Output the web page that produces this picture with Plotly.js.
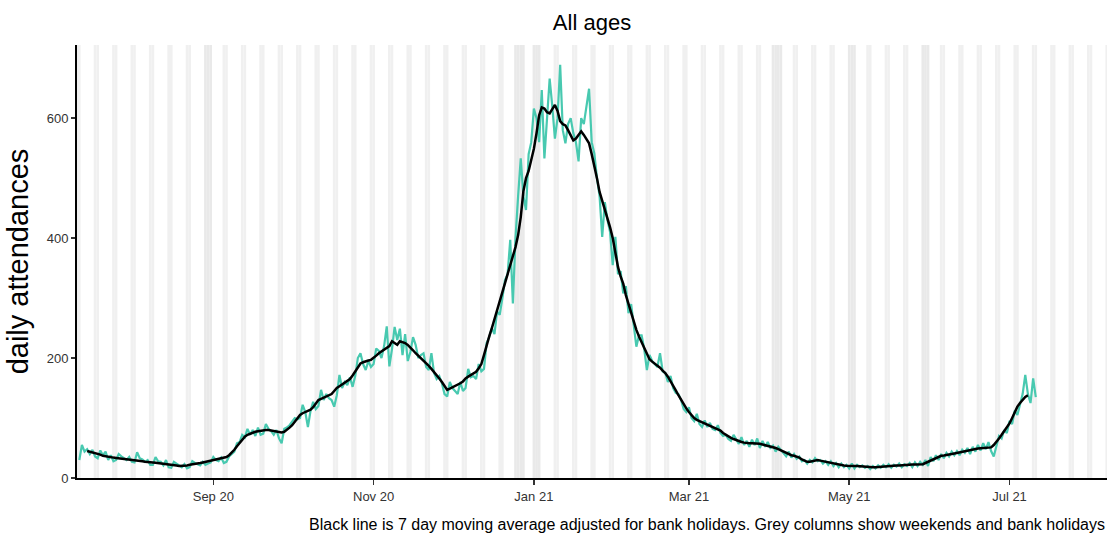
<!DOCTYPE html>
<html>
<head>
<meta charset="utf-8">
<script src="https://cdn.plot.ly/plotly-3.0.1.min.js"></script>
<style>
  html, body { margin: 0; padding: 0; background: #ffffff; }
  #chart { width: 1107px; height: 534px; }
</style>
</head>
<body>
<div id="chart"></div>
<script>
// ---- Data ----
// First day of the daily series (both series are daily, consecutive)
const seriesStart = '2020-07-12';
// Daily attendances (teal), one value per day from seriesStart
const dailyAttendances = [
  30,55,44,48,40,47,36,
  33,46,38,44,30,38,28,
  30,40,36,33,30,35,27,
  26,43,33,31,27,30,22,
  22,35,28,27,21,30,18,
  17,27,24,21,18,23,16,
  18,28,25,23,21,27,22,
  24,26,35,30,28,34,25,
  27,36,40,44,58,60,72,
  68,82,72,80,70,84,72,
  74,90,82,78,72,80,66,
  58,82,84,88,94,100,98,
  100,122,110,85,112,127,115,
  120,147,130,140,133,130,119,
  138,172,150,160,155,168,152,
  170,200,208,190,180,195,185,
  190,216,212,200,220,253,186,
  215,252,230,249,205,240,195,
  210,235,222,200,205,208,185,
  180,208,175,165,170,158,140,
  136,160,150,145,140,160,145,
  150,182,168,170,165,190,178,
  182,225,235,250,240,278,272,
  300,330,340,397,291,400,470,
  533,470,447,540,560,616,600,
  560,647,533,600,666,620,566,
  600,689,580,558,590,600,575,
  560,528,600,590,620,649,560,
  541,500,470,402,460,430,410,
  355,402,340,345,308,320,275,
  290,255,219,238,238,215,180,
  205,195,190,185,208,178,175,
  160,170,150,142,140,130,115,
  110,118,100,95,107,90,85,
  96,85,92,82,80,88,75,
  70,72,65,62,72,65,57,
  68,55,62,52,64,55,66,
  50,62,52,60,50,54,44,
  52,46,40,36,44,34,40,
  32,36,28,30,24,30,26,
  33,28,30,24,28,22,28,
  20,25,18,24,18,22,16,
  24,16,22,18,21,17,20,
  15,20,16,21,17,22,18,
  23,17,22,19,24,18,23,
  20,25,18,26,20,27,22,
  30,20,35,28,38,30,40,
  33,42,36,44,38,45,38,
  47,42,50,40,52,44,55,
  46,58,48,60,45,36,55,
  70,66,80,75,95,90,112,
  105,125,140,172,140,125,166,
  135
];
// 7 day moving average (black) starts this many days after seriesStart
const movingAverageOffset = 3;
const movingAverage = [
  45,44,42,41,40,39,37,
  36,35,34.5,34,33.5,33,32.5,
  32,31.5,31,31,30.5,30,29,
  28,27,27,26.5,26,25.5,25,
  24.5,24.5,24,23,22,21.5,21,
  20,20,20.5,21,22,22.5,23,
  24,25,26,27,28,28.5,29,
  30,31,32,33,35,38,42,
  47,53,59,65,69,72,74,
  76,77,78,79,80,80,80,
  79,78,77,76,76,77,80,
  84,88,94,100,105,108,110,
  112,114,118,124,130,132,134,
  135,137,140,145,150,153,156,
  159,162,165,171,177,184,191,
  193,195,196,197,200,204,208,
  211,214,216,220,228,225,222,
  228,227,225,222,218,213,208,
  204,200,196,191,187,182,177,
  172,166,160,153,147,149,151,
  153,155,158,161,166,169,172,
  174,177,183,190,205,222,236,
  250,265,281,297,311,325,340,
  355,372,385,405,435,478,500,
  512,530,549,575,605,618,616,
  610,608,615,622,612,595,590,
  588,580,570,563,566,572,578,
  572,565,558,540,522,500,477,
  462,448,436,418,400,376,352,
  336,324,305,290,278,262,247,
  236,226,218,207,198,194,191,
  188,184,179,175,169,162,154,
  146,138,130,122,116,110,105,
  100,97,95,93,91,90,88,
  86,84,82,79,75,72,70,
  67,65,63,62,60,59,58,
  58,58,58,58,57,56,55,
  54,53,51,50,48,46,43,
  41,40,38,37,36,34,31,
  29,27,27,28,29,30,29,
  28,27,26,25,24,23,22,
  22,21,20.5,20,20,20,20,
  19.5,19,19,18.5,18,18,18,
  18.5,19,19,19.5,20,20,20.5,
  21,21,21.5,22,22,22,22.5,
  22.5,23,23,23,25,27,30,
  32,34,36,37,37.5,38,39,
  40,41,42,43,44,45,46,
  47,47.5,48,49,49.5,50,50.5,
  51,51,55,60,66,72,78,
  85,91,100,110,119,125,130,
  135,138
];
// Bank holidays (England) in the displayed period
const bankHolidays = ['2020-08-31','2020-12-25','2020-12-28','2021-01-01',
                      '2021-04-02','2021-04-05','2021-05-03','2021-05-31'];
// Axis range and ticks
const xRange = ['2020-07-11 03:00', '2021-08-07 02:30'];
const xTickVals = ['2020-09-01','2020-11-01','2021-01-01','2021-03-01','2021-05-01','2021-07-01'];
const xTickText = ['Sep 20','Nov 20','Jan 21','Mar 21','May 21','Jul 21'];
const yTickVals = [0, 200, 400, 600];
const yRange = [0, 722];

// ---- Helpers ----
const DAY = 86400000;
function toMs(s) { const p = s.slice(0,10).split('-').map(Number); return Date.UTC(p[0], p[1]-1, p[2]); }
function fmt(ms) { return new Date(ms).toISOString().slice(0,19).replace('T',' '); }
const startMs = toMs(seriesStart);
const xDaily = dailyAttendances.map((_, i) => fmt(startMs + i*DAY).slice(0,10));
const xMA = movingAverage.map((_, i) => fmt(startMs + (i+movingAverageOffset)*DAY).slice(0,10));

// Grey columns: weekends and bank holidays over the whole axis range
const bhSet = new Set(bankHolidays);
const shapes = [];
const firstMs = toMs(xRange[0]) - DAY, lastMs = toMs(xRange[1]) + DAY;
const off = [];
for (let t = firstMs; t <= lastMs; t += DAY) {
  const dow = new Date(t).getUTCDay();
  const key = fmt(t).slice(0,10);
  off.push({t, isOff: dow === 0 || dow === 6 || bhSet.has(key), isBH: bhSet.has(key)});
}
// runs of non-working days; runs containing a bank holiday get a slightly darker shade
let i = 0;
while (i < off.length) {
  if (!off[i].isOff) { i++; continue; }
  let j = i, hasBH = false;
  while (j < off.length && off[j].isOff) { if (off[j].isBH) hasBH = true; j++; }
  for (let k = i; k < j; k++) {
    shapes.push({
      type: 'rect', xref: 'x', yref: 'paper', layer: 'below',
      x0: fmt(off[k].t - DAY/2), x1: fmt(off[k].t + DAY/2), y0: 0, y1: 1,
      fillcolor: hasBH ? '#e9e9e9' : '#f0f0f0', line: {width: 0}
    });
  }
  i = j;
}

const traces = [
  { x: xDaily, y: dailyAttendances, type: 'scatter', mode: 'lines',
    line: {color: '#48c9b0', width: 2.2}, hoverinfo: 'skip', showlegend: false },
  { x: xMA, y: movingAverage, type: 'scatter', mode: 'lines',
    line: {color: '#000000', width: 2.5}, hoverinfo: 'skip', showlegend: false }
];

const layout = {
  width: 1107, height: 534,
  margin: {l: 77, r: 0, t: 45, b: 56},
  paper_bgcolor: '#ffffff', plot_bgcolor: '#ffffff',
  font: {family: 'Liberation Sans, Arial, sans-serif', color: '#000'},
  title: {text: 'All ages', font: {size: 22, color: '#000'},
          x: 0.5, xref: 'paper', xanchor: 'center', y: 1 - 22/534, yref: 'container', yanchor: 'middle'},
  xaxis: {
    type: 'date', range: xRange, showgrid: false, zeroline: false,
    showline: true, linecolor: '#000', linewidth: 2,
    tickmode: 'array', tickvals: xTickVals, ticktext: xTickText,
    ticks: 'outside', ticklen: 5, tickwidth: 1.5, tickcolor: '#333',
    tickfont: {size: 13, color: '#333'}
  },
  yaxis: {
    range: yRange, showgrid: false, zeroline: false,
    showline: true, linecolor: '#000', linewidth: 2,
    tickmode: 'array', tickvals: yTickVals,
    ticks: 'outside', ticklen: 4, tickwidth: 1.5, tickcolor: '#333',
    tickfont: {size: 13, color: '#333'},
    title: {text: 'daily attendances', font: {size: 29, color: '#000'}, standoff: 10},
    automargin: false
  },
  shapes: shapes,
  annotations: [{
    text: 'Black line is 7 day moving average adjusted for bank holidays. Grey columns show weekends and bank holidays',
    xref: 'paper', x: 1, xanchor: 'right', yref: 'paper', y: (478-524)/433, yanchor: 'middle',
    showarrow: false, font: {size: 16, color: '#000'}
  }]
};

Plotly.newPlot('chart', traces, layout, {displayModeBar: false, staticPlot: true});
</script>
</body>
</html>
